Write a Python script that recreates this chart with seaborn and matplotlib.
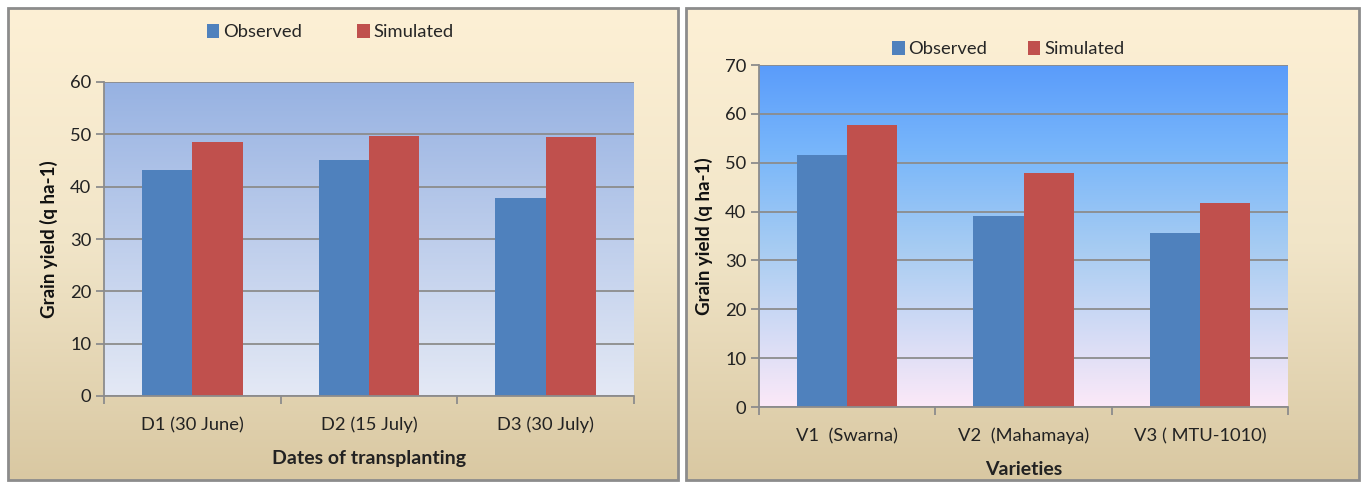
import numpy as np
import pandas as pd
import matplotlib
matplotlib.use("Agg")
import matplotlib.pyplot as plt
from matplotlib.colors import LinearSegmentedColormap
from matplotlib.patches import Rectangle, Patch
import seaborn as sns

# ---- data ----
dates = ["D1 (30 June)", "D2 (15 July)", "D3 (30 July)"]
dates_observed = [43.2, 45.1, 37.8]
dates_simulated = [48.5, 49.7, 49.4]

varieties = ["V1  (Swarna)", "V2  (Mahamaya)", "V3 ( MTU-1010)"]
var_observed = [51.5, 39.1, 35.7]
var_simulated = [57.7, 47.9, 41.8]

series_names = ["Observed", "Simulated"]
colors = ["#4F81BD", "#C0504D"]

sns.set_theme(style="white")
plt.rcParams["font.family"] = ["Lato", "DejaVu Sans"]

W, H = 1362, 483
fig = plt.figure(figsize=(W / 100, H / 100), dpi=100)
fig.patch.set_facecolor("white")


def gradient(axx, stops, zorder=0):
    cmap = LinearSegmentedColormap.from_list("g", stops)
    grad = np.linspace(1, 0, 256).reshape(-1, 1)
    axx.imshow(grad, aspect="auto", cmap=cmap, extent=[0, 1, 0, 1],
               transform=axx.transAxes, zorder=zorder, interpolation="bicubic")


def panel(x0, x1, y0, y1):
    pa = fig.add_axes([x0 / W, 1 - y1 / H, (x1 - x0) / W, (y1 - y0) / H])
    gradient(pa, [(0.0, "#D9C8A2"), (0.5, "#F1E5C8"), (1.0, "#FDF0D5")])
    pa.set_xlim(0, 1)
    pa.set_ylim(0, 1)
    pa.axis("off")
    pa.add_patch(Rectangle((0, 0), 1, 1, transform=pa.transAxes, fill=False,
                           edgecolor="#8C8C8C", linewidth=2, clip_on=False))
    return pa


panel(8, 678, 8, 480)
panel(686, 1359, 8, 480)


def chart(rect, cats, obs, sim, ymax, grad_stops, xlabel, leg_xy, colsp):
    x0, x1, y0, y1 = rect
    ax = fig.add_axes([x0 / W, 1 - y1 / H, (x1 - x0) / W, (y1 - y0) / H])
    df = pd.DataFrame({
        "cat": cats * 2,
        "val": obs + sim,
        "series": [series_names[0]] * len(cats) + [series_names[1]] * len(cats),
    })
    sns.barplot(data=df, x="cat", y="val", hue="series", palette=colors,
                width=0.57, gap=0, ax=ax, legend=False, saturation=1,
                edgecolor="none", zorder=3)
    ax.patch.set_alpha(0)
    gradient(ax, grad_stops, zorder=0)
    ax.set_xlim(-0.5, len(cats) - 0.5)
    ax.set_ylim(0, ymax)
    ax.set_yticks(np.arange(0, ymax + 1, 10))
    ax.yaxis.grid(True, color="#8C8C8C", linewidth=1.3, zorder=1)
    ax.set_axisbelow(True)
    for sp in ["top", "right"]:
        ax.spines[sp].set_visible(False)
    for sp in ["left", "bottom"]:
        ax.spines[sp].set_color("#8C8C8C")
        ax.spines[sp].set_linewidth(1.3)
        ax.spines[sp].set_zorder(4)
    ax.set_xticks(range(len(cats)))
    ax.set_xticklabels(cats)
    ax.set_xticks(np.arange(-0.5, len(cats)), minor=True)
    ax.tick_params(axis="x", which="major", length=0, pad=15, labelsize=13.2,
                   colors="#222222")
    ax.tick_params(axis="x", which="minor", length=6, width=1.3, color="#8C8C8C",
                   bottom=True)
    ax.tick_params(axis="y", length=6, width=1.3, color="#8C8C8C", left=True,
                   labelsize=13.2, labelcolor="#222222", pad=3)
    ax.set_xlabel(xlabel, fontsize=14, fontweight="bold", labelpad=12,
                  color="#222222")
    ax.set_ylabel("Grain yield (q ha-1)", fontsize=13.5, fontweight="bold",
                  labelpad=9, color="#111111")
    handles = [Patch(facecolor=c, edgecolor="none") for c in colors]
    fig.legend(handles, series_names, loc="center",
               bbox_to_anchor=(leg_xy[0] / W, 1 - leg_xy[1] / H), ncol=2,
               frameon=False, fontsize=13.2, handlelength=0.7, handleheight=0.85,
               handletextpad=0.2, columnspacing=colsp)
    return ax


chart((104, 634, 82, 396), dates, dates_observed, dates_simulated, 60,
      [(0.0, "#E4E9F5"), (1.0, "#97B2E2")], "Dates of transplanting",
      (330, 32), 3.0)
chart((759, 1288, 65, 407), varieties, var_observed, var_simulated, 70,
      [(0.0, "#FCE9F8"), (0.45, "#A9CDF2"), (0.75, "#78B6FA"), (1.0, "#5A9CFB")],
      "Varieties", (1008, 49), 2.2)

fig.savefig("out.png", dpi=100)
